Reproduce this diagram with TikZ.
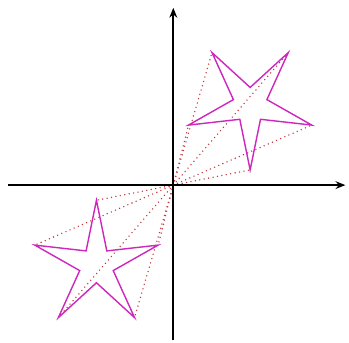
\documentclass[tikz,border=0pt]{standalone}
\usepackage{tikz}
\usepackage{xcolor}
\usetikzlibrary{calc, arrows.meta}

\definecolor{starpink}{RGB}{205,40,190}
\definecolor{rayred}{RGB}{195,55,60}

\begin{document}
\begin{tikzpicture}[>={Stealth[length=7pt,width=5.5pt]},
  axis/.style={line width=1.2pt, ->, black},
  star/.style={line width=1pt, starpink, line join=miter},
  ray/.style={line width=1.1pt, rayred, line cap=round, dash pattern=on 0pt off 3.2pt}]

  \useasboundingbox (-4.33,-3.925) rectangle (4.39,4.625);

  % Define key coordinates
  \coordinate (O) at (0, 0);          % Origin
  \coordinate (C) at (1.92, 2.0);     % Centre of first star
  \coordinate (D) at (-1.92, -2.0);   % Centre of mirrored star
  \coordinate (XL) at (-4.13, 0);
  \coordinate (XR) at (4.3, 0);
  \coordinate (YB) at (0, -3.88);
  \coordinate (YT) at (0, 4.43);

  % Tips and inner corners (second star is the first one turned by 180)
  \foreach \i in {0,...,4} {
    \coordinate (A\i) at ($(C)+(54+72*\i:1.62)$);
    \coordinate (a\i) at ($(C)+(90+72*\i:0.44)$);
    \coordinate (B\i) at ($(D)+(234+72*\i:1.62)$);
    \coordinate (b\i) at ($(D)+(270+72*\i:0.44)$);
  }

  % Dotted rays from the origin to every tip
  \foreach \i in {0,...,4} {
    \draw[ray] (O) -- (A\i);
    \draw[ray] (O) -- (B\i);
  }

  % Axes
  \draw[axis] (XL) -- (XR);
  \draw[axis] (YB) -- (YT);

  % Stars
  \draw[star] (A0) -- (a0) -- (A1) -- (a1) -- (A2) -- (a2) -- (A3) -- (a3) -- (A4) -- (a4) -- cycle;
  \draw[star] (B0) -- (b0) -- (B1) -- (b1) -- (B2) -- (b2) -- (B3) -- (b3) -- (B4) -- (b4) -- cycle;
\end{tikzpicture}
\end{document}
